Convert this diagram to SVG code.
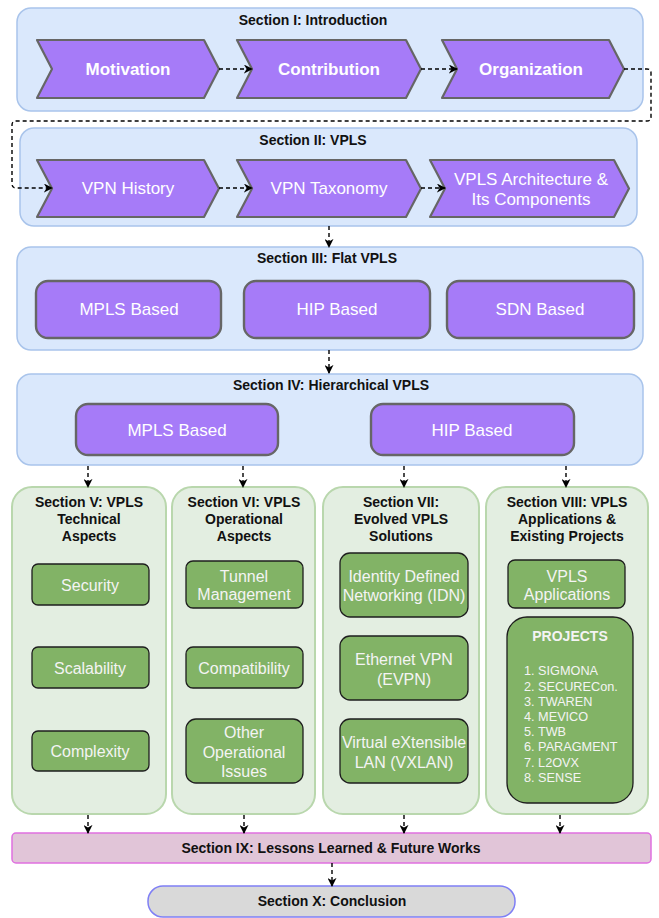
<svg xmlns="http://www.w3.org/2000/svg" width="659" height="918" viewBox="0 0 659 918">
<defs>
<marker id="ah" viewBox="0 0 10 10" refX="9" refY="5" markerWidth="9" markerHeight="9" markerUnits="userSpaceOnUse" orient="auto">
<path d="M0,0 L10,5 L0,10 L3,5 Z" fill="#000"/>
</marker>
<style>
.cont{fill:#dae8fc;stroke:#a9c4eb;stroke-width:1.5}
.col{fill:#e3eee1;stroke:#b9d7ad;stroke-width:2}
.chev{fill:#a67bf8;stroke:#666;stroke-width:2.2;stroke-linejoin:round}
.pbox{fill:#a67bf8;stroke:#666;stroke-width:2.4}
.gbox{fill:#82b366;stroke:#1e1e1e;stroke-width:1.3}
.t{font-family:"Liberation Sans",Arial,sans-serif;text-anchor:middle;dominant-baseline:central}
.title{font-size:14px;font-weight:bold;fill:#111}
.cw{font-size:17px;fill:#fff}
.cwb{font-size:17px;font-weight:bold;fill:#fff}
.gt{font-size:16px;fill:#f4f4f4}
.pl{font-family:"Liberation Sans",Arial,sans-serif;font-size:12.7px;fill:#f4f4f4;dominant-baseline:central}
.conn{fill:none;stroke:#000;stroke-width:1.4;stroke-dasharray:4 3;marker-end:url(#ah)}
</style>
</defs>

<g id="sec1">
<rect class="cont" x="17" y="8" width="626" height="103" rx="14"/>
<text class="t title" x="313" y="20">Section I: Introduction</text>
</g>
<g id="motivation">
<path class="chev" d="M37,40 H204 L219,69 L204,98 H37 L52,69 Z"/>
<text class="t cwb" x="128" y="69">Motivation</text>
</g>
<g id="contribution">
<path class="chev" d="M237,40 H406 L421,69 L406,98 H237 L252,69 Z"/>
<text class="t cwb" x="329" y="69">Contribution</text>
</g>
<g id="organization">
<path class="chev" d="M442,40 H609 L624,69 L609,98 H442 L457,69 Z"/>
<text class="t cwb" x="531" y="69">Organization</text>
</g>

<g id="sec2">
<rect class="cont" x="20" y="128" width="617" height="98" rx="14"/>
<text class="t title" x="313" y="140">Section II: VPLS</text>
</g>
<g id="vpnhistory">
<path class="chev" d="M37,160 H204 L219,188.5 L204,217 H37 L52,188.5 Z"/>
<text class="t cw" x="128" y="188">VPN History</text>
</g>
<g id="vpntaxonomy">
<path class="chev" d="M237,160 H406 L421,188.5 L406,217 H237 L252,188.5 Z"/>
<text class="t cw" x="329" y="188">VPN Taxonomy</text>
</g>
<g id="vplsarch">
<path class="chev" d="M430,160 H614 L629,188.5 L614,217 H430 L445,188.5 Z"/>
<text class="t cw" x="531" y="179">VPLS Architecture &amp;</text>
<text class="t cw" x="531" y="199">Its Components</text>
</g>

<g id="sec3">
<rect class="cont" x="17" y="247" width="626" height="103" rx="14"/>
<text class="t title" x="327" y="258">Section III: Flat VPLS</text>
</g>
<g id="flat-mpls">
<rect class="pbox" x="36" y="281" width="185" height="57" rx="12"/>
<text class="t cw" x="129" y="309">MPLS Based</text>
</g>
<g id="flat-hip">
<rect class="pbox" x="244" y="281" width="186" height="57" rx="12"/>
<text class="t cw" x="337" y="309">HIP Based</text>
</g>
<g id="flat-sdn">
<rect class="pbox" x="447" y="281" width="187" height="57" rx="12"/>
<text class="t cw" x="540" y="309">SDN Based</text>
</g>

<g id="sec4">
<rect class="cont" x="17" y="374" width="626" height="91" rx="14"/>
<text class="t title" x="331" y="385">Section IV: Hierarchical VPLS</text>
</g>
<g id="h-mpls">
<rect class="pbox" x="76" y="404" width="202" height="51" rx="12"/>
<text class="t cw" x="177" y="430">MPLS Based</text>
</g>
<g id="h-hip">
<rect class="pbox" x="371" y="404" width="203" height="51" rx="12"/>
<text class="t cw" x="472" y="430">HIP Based</text>
</g>

<g id="sec5">
<rect class="col" x="12" y="487" width="154" height="327" rx="20"/>
<text class="t title" x="89" y="502">Section V: VPLS</text>
<text class="t title" x="89" y="519">Technical</text>
<text class="t title" x="89" y="536">Aspects</text>
</g>
<g id="security">
<rect class="gbox" x="32" y="564" width="117" height="41" rx="6"/>
<text class="t gt" x="90" y="585">Security</text>
</g>
<g id="scalability">
<rect class="gbox" x="32" y="647" width="117" height="41" rx="6"/>
<text class="t gt" x="90" y="668">Scalability</text>
</g>
<g id="complexity">
<rect class="gbox" x="32" y="731" width="117" height="40" rx="6"/>
<text class="t gt" x="90" y="751">Complexity</text>
</g>

<g id="sec6">
<rect class="col" x="172" y="487" width="143" height="327" rx="20"/>
<text class="t title" x="244" y="502">Section VI: VPLS</text>
<text class="t title" x="244" y="519">Operational</text>
<text class="t title" x="244" y="536">Aspects</text>
</g>
<g id="tunnel">
<rect class="gbox" x="186" y="561" width="117" height="47" rx="7"/>
<text class="t gt" x="244" y="576">Tunnel</text>
<text class="t gt" x="244" y="594">Management</text>
</g>
<g id="compatibility">
<rect class="gbox" x="186" y="647" width="117" height="41" rx="7"/>
<text class="t gt" x="244" y="668">Compatibility</text>
</g>
<g id="otherops">
<rect class="gbox" x="186" y="719" width="117" height="64" rx="10"/>
<text class="t gt" x="244" y="732">Other</text>
<text class="t gt" x="244" y="752">Operational</text>
<text class="t gt" x="244" y="771">Issues</text>
</g>

<g id="sec7">
<rect class="col" x="323" y="487" width="156" height="327" rx="20"/>
<text class="t title" x="401" y="502">Section VII:</text>
<text class="t title" x="401" y="519">Evolved VPLS</text>
<text class="t title" x="401" y="536">Solutions</text>
</g>
<g id="idn">
<rect class="gbox" x="340" y="553" width="128" height="64" rx="10"/>
<text class="t gt" x="404" y="576">Identity Defined</text>
<text class="t gt" x="404" y="595">Networking (IDN)</text>
</g>
<g id="evpn">
<rect class="gbox" x="340" y="636" width="128" height="64" rx="10"/>
<text class="t gt" x="404" y="659">Ethernet VPN</text>
<text class="t gt" x="404" y="679">(EVPN)</text>
</g>
<g id="vxlan">
<rect class="gbox" x="340" y="719" width="128" height="64" rx="10"/>
<text class="t gt" x="404" y="742">Virtual eXtensible</text>
<text class="t gt" x="404" y="762">LAN (VXLAN)</text>
</g>

<g id="sec8">
<rect class="col" x="486" y="487" width="162" height="327" rx="20"/>
<text class="t title" x="567" y="502">Section VIII: VPLS</text>
<text class="t title" x="567" y="519">Applications &amp;</text>
<text class="t title" x="567" y="536">Existing Projects</text>
</g>
<g id="vplsapps">
<rect class="gbox" x="508" y="560" width="117" height="48" rx="7"/>
<text class="t gt" x="567" y="576">VPLS</text>
<text class="t gt" x="567" y="594">Applications</text>
</g>
<g id="projects">
<rect class="gbox" x="507" y="617" width="126" height="186" rx="20"/>
<text class="t title" x="570" y="636" style="fill:#f4f4f4">PROJECTS</text>
<text class="pl" x="524" y="671">1. SIGMONA</text>
<text class="pl" x="524" y="686.5">2. SECURECon.</text>
<text class="pl" x="524" y="701.5">3. TWAREN</text>
<text class="pl" x="524" y="717">4. MEVICO</text>
<text class="pl" x="524" y="732">5. TWB</text>
<text class="pl" x="524" y="747">6. PARAGMENT</text>
<text class="pl" x="524" y="762.5">7. L2OVX</text>
<text class="pl" x="524" y="777.5">8. SENSE</text>
</g>

<g id="sec9">
<rect x="12" y="833" width="639" height="30" rx="4" fill="#e1c5d8" stroke="#e070e0" stroke-width="1.5"/>
<text class="t title" x="331" y="848">Section IX: Lessons Learned &amp; Future Works</text>
</g>
<g id="sec10">
<rect x="148" y="886" width="367" height="31" rx="15" fill="#d9d9d9" stroke="#7f7ff5" stroke-width="1.5"/>
<text class="t title" x="332" y="901">Section X: Conclusion</text>
</g>

<g id="connectors">
<path class="conn" d="M219,69 H252"/>
<path class="conn" d="M421,69 H457"/>
<path class="conn" d="M624,69 H647 Q651,69 651,73 V117 Q651,121 647,121 H16 Q12,121 12,125 V184 Q12,188 16,188 H52"/>
<path class="conn" d="M219,188 H252"/>
<path class="conn" d="M421,188 H445"/>
<path class="conn" d="M329,226 V247"/>
<path class="conn" d="M329,350 V373"/>
<path class="conn" d="M88,466 V487"/>
<path class="conn" d="M243,466 V487"/>
<path class="conn" d="M404,466 V487"/>
<path class="conn" d="M566,466 V487"/>
<path class="conn" d="M88,815 V833"/>
<path class="conn" d="M244,815 V833"/>
<path class="conn" d="M404,815 V833"/>
<path class="conn" d="M560,815 V833"/>
<path class="conn" d="M332,863 V886"/>
</g>
</svg>
